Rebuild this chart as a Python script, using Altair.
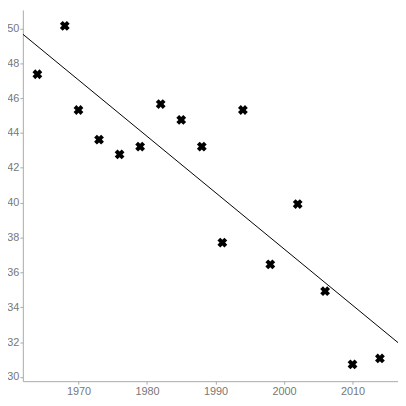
import altair as alt
import pandas as pd

years = [1964, 1968, 1970, 1973, 1976, 1979, 1982, 1985, 1988, 1991, 1994, 1998, 2002, 2006, 2010, 2014]
values = [47.37, 50.15, 45.32, 43.62, 42.77, 43.22, 45.66, 44.75, 43.22, 37.71, 45.32, 36.46, 39.92, 34.92, 30.72, 31.06]

df = pd.DataFrame({"year": years, "value": values})

x_dom = [1961.88, 2016.64]
y_dom = [29.756, 51.06]

axis_common = dict(
    grid=False,
    domainColor="#aaaaaa",
    tickColor="#aaaaaa",
    tickSize=3,
    labelColor="#777777",
    labelFontSize=11,
    labelFont="Liberation Sans",
    title=None,
)

x = alt.X("year:Q", scale=alt.Scale(domain=x_dom, nice=False, zero=False),
          axis=alt.Axis(values=[1970, 1980, 1990, 2000, 2010], format="d", labelPadding=1, **axis_common))
y = alt.Y("value:Q", scale=alt.Scale(domain=y_dom, nice=False, zero=False),
          axis=alt.Axis(values=list(range(30, 51, 2)), labelPadding=1, **axis_common))

points = alt.Chart(df).mark_point(shape="cross", angle=45, filled=True, color="black", size=100, opacity=1).encode(x=x, y=y)

line = alt.Chart(df).transform_regression("year", "value", extent=x_dom).mark_line(
    color="black", strokeWidth=1, clip=True).encode(x=x, y=y)

chart = alt.layer(line, points).properties(
    width=379, height=375,
    autosize=alt.AutoSizeParams(type="none"),
    padding={"left": 15, "top": 0, "right": 0, "bottom": 14},
).configure_view(stroke=None)

chart.save("out.html", embed_options={"renderer": "svg", "actions": False})
